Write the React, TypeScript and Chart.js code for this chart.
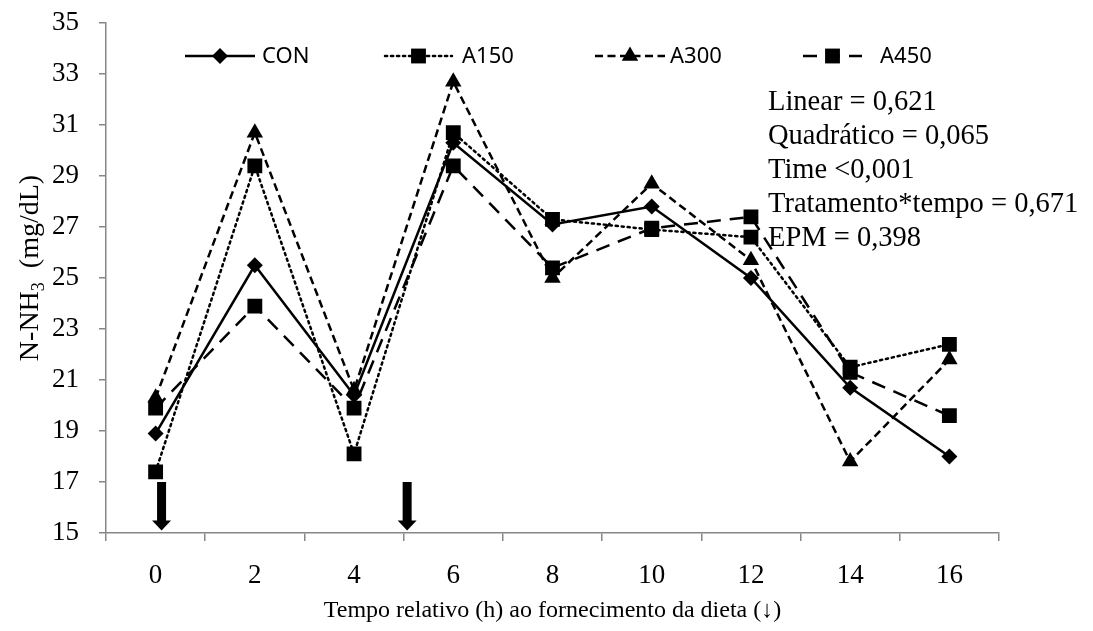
import React, { useEffect, useRef } from "react";
import { Chart, registerables } from "chart.js";

Chart.register(...registerables);

// ---- data ----
const categories = ["0", "2", "4", "6", "8", "10", "12", "14", "16"];
const seriesNames = ["CON", "A150", "A300", "A450"];
const conValues = [18.9, 25.5, 20.4, 30.3, 27.1, 27.8, 25.0, 20.7, 18.0];
const a150Values = [17.4, 29.4, 18.1, 30.7, 27.3, 26.9, 26.6, 21.5, 22.4];
const a300Values = [20.3, 30.7, 20.6, 32.7, 25.0, 28.7, 25.7, 17.8, 21.8];
const a450Values = [19.9, 23.9, 19.9, 29.4, 25.4, 26.95, 27.4, 21.3, 19.6];
const yMin = 15;
const yMax = 35;
const yStep = 2;
const statLines = [
  "Linear = 0,621",
  "Quadrático = 0,065",
  "Time <0,001",
  "Tratamento*tempo = 0,671",
  "EPM = 0,398",
];
const feedingHours = [0.12, 5.07]; // arrows (hours)
const arrowTopValue = 17;
const arrowTipValue = 15.1;
const xTitle = "Tempo relativo (h) ao fornecimento da dieta (↓)";

const SERIF = "'Liberation Serif', 'Times New Roman', serif";
const SANS = "'Noto Sans', 'Open Sans', sans-serif";
const AXIS_GRAY = "#878787";

type Style = { dash: number[]; cap: CanvasLineCap; point: string; radius: number };
const styles: Style[] = [
  { dash: [], cap: "butt", point: "rectRot", radius: 8 },
  { dash: [2.2, 3.8], cap: "round", point: "rect", radius: 10.5 },
  { dash: [8, 4.5], cap: "butt", point: "triangle", radius: 9.5 },
  { dash: [14, 9], cap: "butt", point: "rect", radius: 10.5 },
];

function drawMarker(ctx: CanvasRenderingContext2D, kind: string, x: number, y: number, r: number) {
  ctx.beginPath();
  if (kind === "rect") {
    const s = Math.SQRT1_2 * r;
    ctx.rect(x - s, y - s, 2 * s, 2 * s);
  } else if (kind === "rectRot") {
    ctx.moveTo(x, y - r);
    ctx.lineTo(x + r, y);
    ctx.lineTo(x, y + r);
    ctx.lineTo(x - r, y);
    ctx.closePath();
  } else {
    ctx.moveTo(x, y - r);
    ctx.lineTo(x + r * 0.866, y + r * 0.5);
    ctx.lineTo(x - r * 0.866, y + r * 0.5);
    ctx.closePath();
  }
  ctx.fill();
}

const extras = {
  id: "extras",
  afterDatasetsDraw(chart: any) {
    const ctx: CanvasRenderingContext2D = chart.ctx;
    const xs = chart.scales.x;
    const ys = chart.scales.y;
    ctx.save();
    ctx.fillStyle = "#000";
    // feeding arrows
    for (const h of feedingHours) {
      const px = xs.getPixelForValue(h / 2);
      const top = ys.getPixelForValue(arrowTopValue);
      const tip = ys.getPixelForValue(arrowTipValue);
      const headH = 10;
      const sh = 4.5;
      const hh = 9.5;
      ctx.beginPath();
      ctx.moveTo(px - sh, top);
      ctx.lineTo(px + sh, top);
      ctx.lineTo(px + sh, tip - headH);
      ctx.lineTo(px + hh, tip - headH);
      ctx.lineTo(px, tip);
      ctx.lineTo(px - hh, tip - headH);
      ctx.lineTo(px - sh, tip - headH);
      ctx.closePath();
      ctx.fill();
    }

    // legend
    const legendY = 56;
    const legendItems = [
      { x0: 185, x1: 255, tx: 262 },
      { x0: 385, x1: 452, tx: 462 },
      { x0: 595, x1: 665, tx: 670 },
      { x0: 803, x1: 862, tx: 880 },
    ];
    ctx.font = `22px ${SANS}`;
    ctx.textBaseline = "middle";
    ctx.textAlign = "left";
    legendItems.forEach((it, i) => {
      const st = styles[i];
      ctx.save();
      ctx.strokeStyle = "#000";
      ctx.lineWidth = 2.5;
      ctx.setLineDash(st.dash);
      ctx.lineCap = st.cap;
      ctx.beginPath();
      ctx.moveTo(it.x0, legendY);
      ctx.lineTo(it.x1, legendY);
      ctx.stroke();
      ctx.restore();
      drawMarker(ctx, st.point, (it.x0 + it.x1) / 2, legendY, st.radius);
      ctx.fillText(seriesNames[i], it.tx, legendY + 1);
    });

    // statistics
    ctx.font = `28.5px ${SERIF}`;
    ctx.textBaseline = "middle";
    statLines.forEach((s, i) => {
      ctx.fillText(s, 768, 103 + i * 33.8);
    });

    // x title
    ctx.textAlign = "center";
    ctx.font = `24px ${SERIF}`;
    ctx.fillText(xTitle, (chart.chartArea.left + chart.chartArea.right) / 2, 611);

    // y title with subscript
    ctx.translate(38, 268);
    ctx.rotate(-Math.PI / 2);
    ctx.textAlign = "left";
    ctx.textBaseline = "alphabetic";
    const big = `28px ${SERIF}`;
    const small = `18px ${SERIF}`;
    ctx.font = big;
    const p1 = "N-NH";
    const p3 = "  (mg/dL)";
    const w1 = ctx.measureText(p1).width;
    const w3 = ctx.measureText(p3).width;
    ctx.font = small;
    const w2 = ctx.measureText("3").width;
    const total = w1 + w2 + w3;
    let cx = -total / 2;
    ctx.font = big;
    ctx.fillText(p1, cx, 0);
    cx += w1;
    ctx.font = small;
    ctx.fillText("3", cx, 6);
    cx += w2;
    ctx.font = big;
    ctx.fillText(p3, cx, 0);
    ctx.restore();
  },
};

export default function App() {
  const ref = useRef<HTMLCanvasElement | null>(null);
  useEffect(() => {
    if (!ref.current) return;
    const values = [conValues, a150Values, a300Values, a450Values];
    const chart = new Chart(ref.current, {
      type: "line",
      data: {
        labels: categories,
        datasets: values.map((v, i) => ({
          label: seriesNames[i],
          data: v,
          borderColor: "#000",
          backgroundColor: "#000",
          borderWidth: 2.5,
          borderDash: styles[i].dash,
          borderCapStyle: styles[i].cap,
          pointStyle: styles[i].point as any,
          pointRadius: styles[i].radius,
          pointBorderWidth: 0,
          pointBackgroundColor: "#000",
          tension: 0,
        })),
      },
      options: {
        animation: false,
        responsive: true,
        maintainAspectRatio: false,
        layout: { padding: { left: 0, top: 23, right: 94, bottom: 0 } },
        plugins: { legend: { display: false }, tooltip: { enabled: false } },
        scales: {
          x: {
            type: "category",
            offset: true,
            grid: {
              offset: true,
              drawOnChartArea: false,
              drawTicks: true,
              tickLength: 8,
              color: AXIS_GRAY,
              lineWidth: 1.5,
            },
            border: { color: AXIS_GRAY, width: 1.5 },
            ticks: {
              color: "#000",
              font: { family: SERIF, size: 27 },
              padding: 19,
              maxRotation: 0,
            },
            afterFit: (s: any) => {
              s.height = 98;
              s.paddingLeft = 0;
              s.paddingRight = 0;
            },
          },
          y: {
            min: yMin,
            max: yMax,
            grid: {
              drawOnChartArea: false,
              drawTicks: true,
              tickLength: 7,
              color: AXIS_GRAY,
              lineWidth: 1.5,
            },
            border: { color: AXIS_GRAY, width: 1.5 },
            ticks: {
              stepSize: yStep,
              color: "#000",
              font: { family: SERIF, size: 27 },
              padding: 20,
            },
            afterFit: (s: any) => {
              s.width = 106;
              s.paddingTop = 0;
              s.paddingBottom = 0;
            },
          },
        },
      },
      plugins: [extras],
    });
    return () => chart.destroy();
  }, []);
  return (
    <div style={{ position: "absolute", left: 0, top: 0, width: 1093, height: 631 }}>
      <canvas ref={ref} />
    </div>
  );
}
